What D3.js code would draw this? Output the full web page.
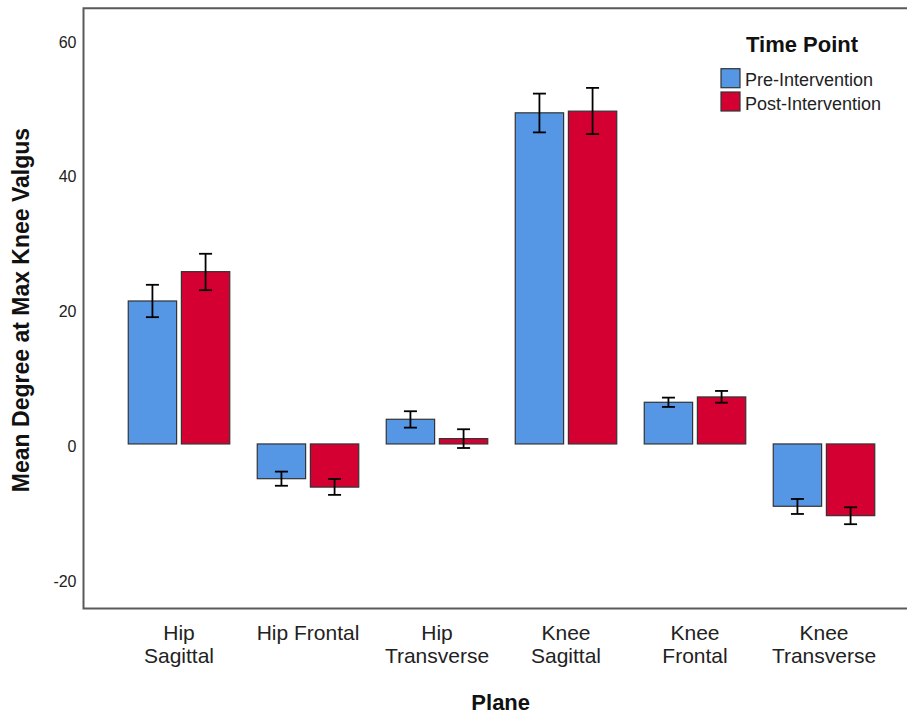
<!DOCTYPE html>
<html>
<head>
<meta charset="utf-8">
<script src="https://cdn.jsdelivr.net/npm/d3@7"></script>
<style>
  html, body { margin: 0; padding: 0; background: #fff; }
  svg { display: block; font-family: "Liberation Sans", Arial, sans-serif; }
</style>
</head>
<body>
<svg id="chart" width="907" height="717"></svg>
<script>
// Planes on the x axis and their two-line tick labels
const categories = ["Hip Sagittal", "Hip Frontal", "Hip Transverse", "Knee Sagittal", "Knee Frontal", "Knee Transverse"];
const tickLabels = [["Hip", "Sagittal"], ["Hip Frontal"], ["Hip", "Transverse"], ["Knee", "Sagittal"], ["Knee", "Frontal"], ["Knee", "Transverse"]];

// Time points (series)
const series = ["Pre-Intervention", "Post-Intervention"];
const seriesColors = ["#5596e5", "#d50032"];

// Mean degree at max knee valgus, per plane
const preMean  = [21.2, -5.15, 3.66, 49.1, 6.18, -9.24];
const postMean = [25.55, -6.4, 0.79, 49.35, 6.97, -10.63];

// Error bar limits
const preLow   = [18.8, -6.2, 2.42, 46.2, 5.49, -10.38];
const preHigh  = [23.6, -4.1, 4.85, 51.95, 6.87, -8.16];
const postLow  = [22.8, -7.55, -0.6, 45.95, 6.12, -11.9];
const postHigh = [28.2, -5.2, 2.18, 52.8, 7.86, -9.39];

// Y axis ticks
const yTicks = [-20, 0, 20, 40, 60];

const rows = categories.map((c, i) => ({
  category: c,
  values: [
    { key: series[0], mean: preMean[i], low: preLow[i], high: preHigh[i] },
    { key: series[1], mean: postMean[i], low: postLow[i], high: postHigh[i] }
  ]
}));

const svg = d3.select("#chart");
const frame = { left: 83.5, top: 8.3, right: 912, bottom: 608.5 };

const y = d3.scaleLinear().domain([-24.4, 64.6]).range([frame.bottom, frame.top]);

const x0 = d3.scaleBand().domain(categories).range([114.5, 888.5])
  .paddingInner(0.2132).paddingOuter(0.1066);
const x1 = d3.scaleBand().domain(series).range([0, x0.bandwidth()]).paddingInner(0.09);
const color = d3.scaleOrdinal().domain(series).range(seriesColors);

// Bars
const groups = svg.append("g").selectAll("g").data(rows).join("g")
  .attr("transform", d => `translate(${x0(d.category)},0)`);

groups.selectAll("rect").data(d => d.values).join("rect")
  .attr("x", d => x1(d.key))
  .attr("y", d => y(Math.max(0, d.mean)))
  .attr("width", x1.bandwidth())
  .attr("height", d => Math.abs(y(d.mean) - y(0)))
  .attr("fill", d => color(d.key))
  .attr("stroke", "#333")
  .attr("stroke-width", 1.2);

// Error bars
const capHalf = 6.5;
const eb = groups.selectAll("g.err").data(d => d.values).join("g").attr("class", "err")
  .attr("transform", d => `translate(${x1(d.key) + x1.bandwidth() / 2},0)`)
  .attr("stroke", "#000").attr("stroke-width", 1.8);
eb.append("line").attr("x1", 0).attr("x2", 0).attr("y1", d => y(d.low)).attr("y2", d => y(d.high));
eb.append("line").attr("x1", -capHalf).attr("x2", capHalf).attr("y1", d => y(d.high)).attr("y2", d => y(d.high));
eb.append("line").attr("x1", -capHalf).attr("x2", capHalf).attr("y1", d => y(d.low)).attr("y2", d => y(d.low));

// Frame (left, top and bottom edges)
svg.append("path")
  .attr("d", `M${frame.right},${frame.top}H${frame.left}V${frame.bottom}H${frame.right}`)
  .attr("fill", "none").attr("stroke", "#5a5a5a").attr("stroke-width", 2);

// Y axis labels
const yAxis = svg.append("g").attr("transform", `translate(${frame.left},0)`)
  .call(d3.axisLeft(y).tickValues(yTicks).tickSize(0).tickPadding(7).tickFormat(d => String(d)));
yAxis.select(".domain").remove();
yAxis.selectAll("text").attr("font-size", 16).attr("fill", "#222")
  .attr("font-family", "Liberation Sans, Arial, sans-serif").attr("dy", "0.48em");

// X axis labels
const xAxis = svg.append("g").attr("transform", `translate(0,${frame.bottom})`)
  .call(d3.axisBottom(x0).tickSize(0).tickFormat(""));
xAxis.select(".domain").remove();
xAxis.selectAll(".tick text")
  .attr("font-size", 21).attr("fill", "#222")
  .attr("font-family", "Liberation Sans, Arial, sans-serif")
  .attr("y", 31.5).attr("dy", null)
  .each(function(d) {
    const lines = tickLabels[categories.indexOf(d)];
    const t = d3.select(this);
    lines.forEach((ln, i) => {
      t.append("tspan").attr("x", 0).attr("dy", i === 0 ? 0 : 23).text(ln);
    });
  });

// Axis titles
svg.append("text")
  .attr("x", 500.7).attr("y", 710)
  .attr("text-anchor", "middle").attr("font-weight", "bold").attr("font-size", 22)
  .attr("fill", "#111").text("Plane");

svg.append("text")
  .attr("transform", "translate(29,310) rotate(-90)")
  .attr("text-anchor", "middle").attr("font-weight", "bold").attr("font-size", 23)
  .attr("fill", "#111").text("Mean Degree at Max Knee Valgus");

// Legend
const legend = svg.append("g");
legend.append("text").attr("x", 746).attr("y", 51.5)
  .attr("font-weight", "bold").attr("font-size", 22).attr("fill", "#111").text("Time Point");
const items = legend.selectAll("g.item").data(series).join("g").attr("class", "item")
  .attr("transform", (d, i) => `translate(721,${68.7 + i * 23.3})`);
items.append("rect").attr("width", 19).attr("height", 19)
  .attr("fill", d => color(d)).attr("stroke", "#333").attr("stroke-width", 1.2);
items.append("text").attr("x", 24).attr("y", 17.8)
  .attr("font-size", 18).attr("fill", "#222").text(d => d);
</script>
</body>
</html>
